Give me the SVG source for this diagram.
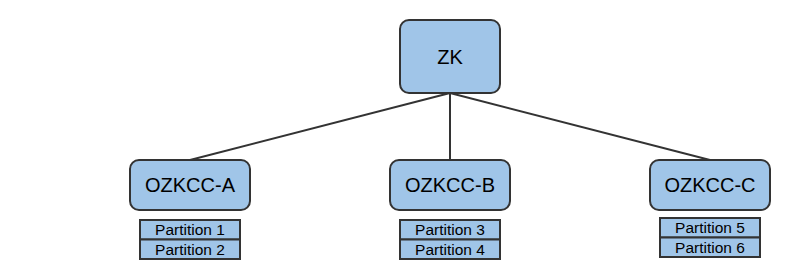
<svg xmlns="http://www.w3.org/2000/svg" width="795" height="280" viewBox="0 0 795 280">
<style>
.node{fill:#a0c5e8;stroke:#333;stroke-width:2}
.part{fill:#a0c5e8;stroke:#333;stroke-width:2}
.lbl{font-family:"Liberation Sans",Arial,sans-serif;font-size:20px;fill:#000;text-anchor:middle;dominant-baseline:central}
.plbl{font-family:"Liberation Sans",Arial,sans-serif;font-size:15.5px;fill:#000;text-anchor:middle;dominant-baseline:central}
.conn{stroke:#333;stroke-width:2;fill:none}
</style>
<rect width="795" height="280" fill="#fff"/>
<g id="connectors">
<line class="conn" x1="450" y1="93" x2="190" y2="160"/>
<line class="conn" x1="450" y1="93" x2="450" y2="160"/>
<line class="conn" x1="450" y1="93" x2="710" y2="160"/>
</g>
<g id="zk"><rect class="node" x="400" y="20" width="100" height="73" rx="9"/><text class="lbl" x="450" y="57">ZK</text></g>
<g id="ozkcc-a"><rect class="node" x="130" y="160" width="120" height="50" rx="9"/><text class="lbl" x="190" y="185">OZKCC-A</text></g>
<g id="ozkcc-b"><rect class="node" x="390" y="160" width="120" height="50" rx="9"/><text class="lbl" x="450" y="185">OZKCC-B</text></g>
<g id="ozkcc-c"><rect class="node" x="650" y="160" width="120" height="50" rx="9"/><text class="lbl" x="710" y="185">OZKCC-C</text></g>
<g id="partition-1"><rect class="part" x="140" y="220" width="100" height="19.5"/><text class="plbl" x="190" y="229.5">Partition 1</text></g>
<g id="partition-2"><rect class="part" x="140" y="239.5" width="100" height="19.5"/><text class="plbl" x="190" y="249">Partition 2</text></g>
<g id="partition-3"><rect class="part" x="400" y="220" width="100" height="19.5"/><text class="plbl" x="450" y="229.5">Partition 3</text></g>
<g id="partition-4"><rect class="part" x="400" y="239.5" width="100" height="19.5"/><text class="plbl" x="450" y="249">Partition 4</text></g>
<g id="partition-5"><rect class="part" x="660" y="218" width="100" height="19.5"/><text class="plbl" x="710" y="227.5">Partition 5</text></g>
<g id="partition-6"><rect class="part" x="660" y="237.5" width="100" height="19.5"/><text class="plbl" x="710" y="247">Partition 6</text></g>
</svg>
